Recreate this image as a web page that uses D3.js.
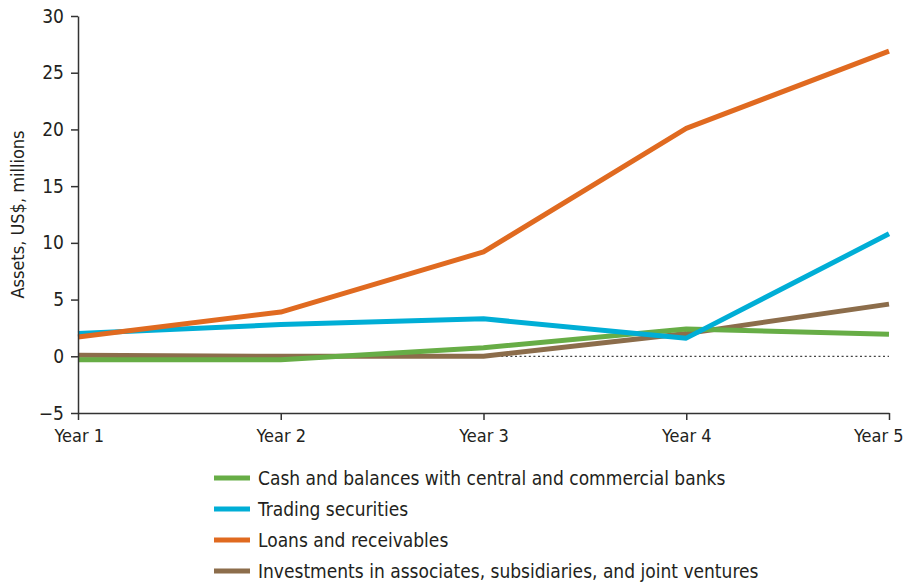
<!DOCTYPE html>
<html>
<head>
<meta charset="utf-8">
<script src="https://cdn.jsdelivr.net/npm/d3@7"></script>
<style>
  html, body { margin: 0; padding: 0; background: #fff; }
  svg { display: block; }
  text { font-family: "Liberation Sans Narrow", "Arial Narrow", "DejaVu Sans Condensed", sans-serif; fill: #231f20; }
</style>
</head>
<body>
<svg id="chart" width="924" height="585"></svg>
<script>
// Categories and series (US$ millions)
const years = ["Year 1", "Year 2", "Year 3", "Year 4", "Year 5"];
const cashBalances = [-0.3, -0.3, 0.75, 2.4, 1.95];
const tradingSecurities = [2.0, 2.8, 3.3, 1.6, 10.8];
const loansReceivables = [1.7, 3.9, 9.2, 20.1, 26.9];
const investmentsAssociates = [0.1, 0.0, 0.0, 2.0, 4.6];
const yTicks = [-5, 0, 5, 10, 15, 20, 25, 30];

const seriesNames = [
  "Cash and balances with central and commercial banks",
  "Trading securities",
  "Loans and receivables",
  "Investments in associates, subsidiaries, and joint ventures"
];
const seriesColors = ["#67ad46", "#00aed6", "#e06a20", "#8c6d4b"];
const seriesValues = [cashBalances, tradingSecurities, loansReceivables, investmentsAssociates];

// Drawing order: brown, green, blue, orange on top
const drawOrder = [3, 0, 1, 2];

const fontStack = "'Liberation Sans Narrow', 'Arial Narrow', 'DejaVu Sans Condensed', sans-serif";
const svg = d3.select("#chart");
const margin = { left: 78, right: 35, top: 16, bottom: 172 };
const width = 924, height = 585;

const x = d3.scalePoint().domain(years).range([margin.left, width - margin.right]);
const y = d3.scaleLinear().domain([-5, 30]).range([height - margin.bottom, margin.top]);

// Zero reference line
svg.append("line")
  .attr("x1", x.range()[0]).attr("x2", x.range()[1])
  .attr("y1", y(0)).attr("y2", y(0))
  .attr("stroke", "#444").attr("stroke-width", 1.3)
  .attr("stroke-dasharray", "2,2.6");

// Series lines
const line = d3.line().x((d, i) => x(years[i])).y(d => y(d));
drawOrder.forEach(k => {
  svg.append("path")
    .datum(seriesValues[k])
    .attr("d", line)
    .attr("fill", "none")
    .attr("stroke", seriesColors[k])
    .attr("stroke-width", 5)
    .attr("stroke-linejoin", "round");
});

// Y axis
const yAxis = svg.append("g")
  .attr("transform", `translate(${margin.left},0)`)
  .call(d3.axisLeft(y).tickValues(yTicks).tickSize(7).tickSizeOuter(0)
    .tickFormat(d => d < 0 ? "\u2212" + Math.abs(d) : d));
yAxis.select(".domain").attr("stroke", "#333").attr("stroke-width", 1.5);
yAxis.selectAll(".tick line").attr("stroke", "#333").attr("stroke-width", 1.5);
yAxis.selectAll(".tick text").attr("font-size", 19).attr("x", -14)
  .style("font-family", fontStack)
  .attr("fill", "#231f20");

// X axis
const xAxis = svg.append("g")
  .attr("transform", `translate(0,${y(-5)})`)
  .call(d3.axisBottom(x).tickSize(7).tickSizeOuter(0));
xAxis.select(".domain").attr("stroke", "#333").attr("stroke-width", 1.5);
xAxis.selectAll(".tick line").attr("stroke", "#333").attr("stroke-width", 1.5);
xAxis.selectAll(".tick text").attr("font-size", 18).attr("y", 16)
  .style("font-family", fontStack)
  .attr("fill", "#231f20");
// First and last labels stay inside the page edges
xAxis.selectAll(".tick text").attr("text-anchor", (d, i) => i === 0 ? "start" : (i === years.length - 1 ? "end" : "middle"))
  .attr("dx", (d, i) => i === 0 ? -24 : (i === years.length - 1 ? 14 : 0));

// Y axis title
svg.append("text")
  .attr("transform", `translate(24,${(y(30) + y(-5)) / 2}) rotate(-90)`)
  .attr("text-anchor", "middle")
  .attr("font-size", 18)
  .text("Assets, US$, millions");

// Legend
const legend = svg.append("g");
seriesNames.forEach((name, i) => {
  const ly = 478 + i * 31;
  legend.append("line")
    .attr("x1", 214).attr("x2", 250)
    .attr("y1", ly).attr("y2", ly)
    .attr("stroke", seriesColors[i]).attr("stroke-width", 5);
  legend.append("text")
    .attr("x", 258).attr("y", ly + 7)
    .attr("font-size", 19)
    .text(name);
});
</script>
</body>
</html>
